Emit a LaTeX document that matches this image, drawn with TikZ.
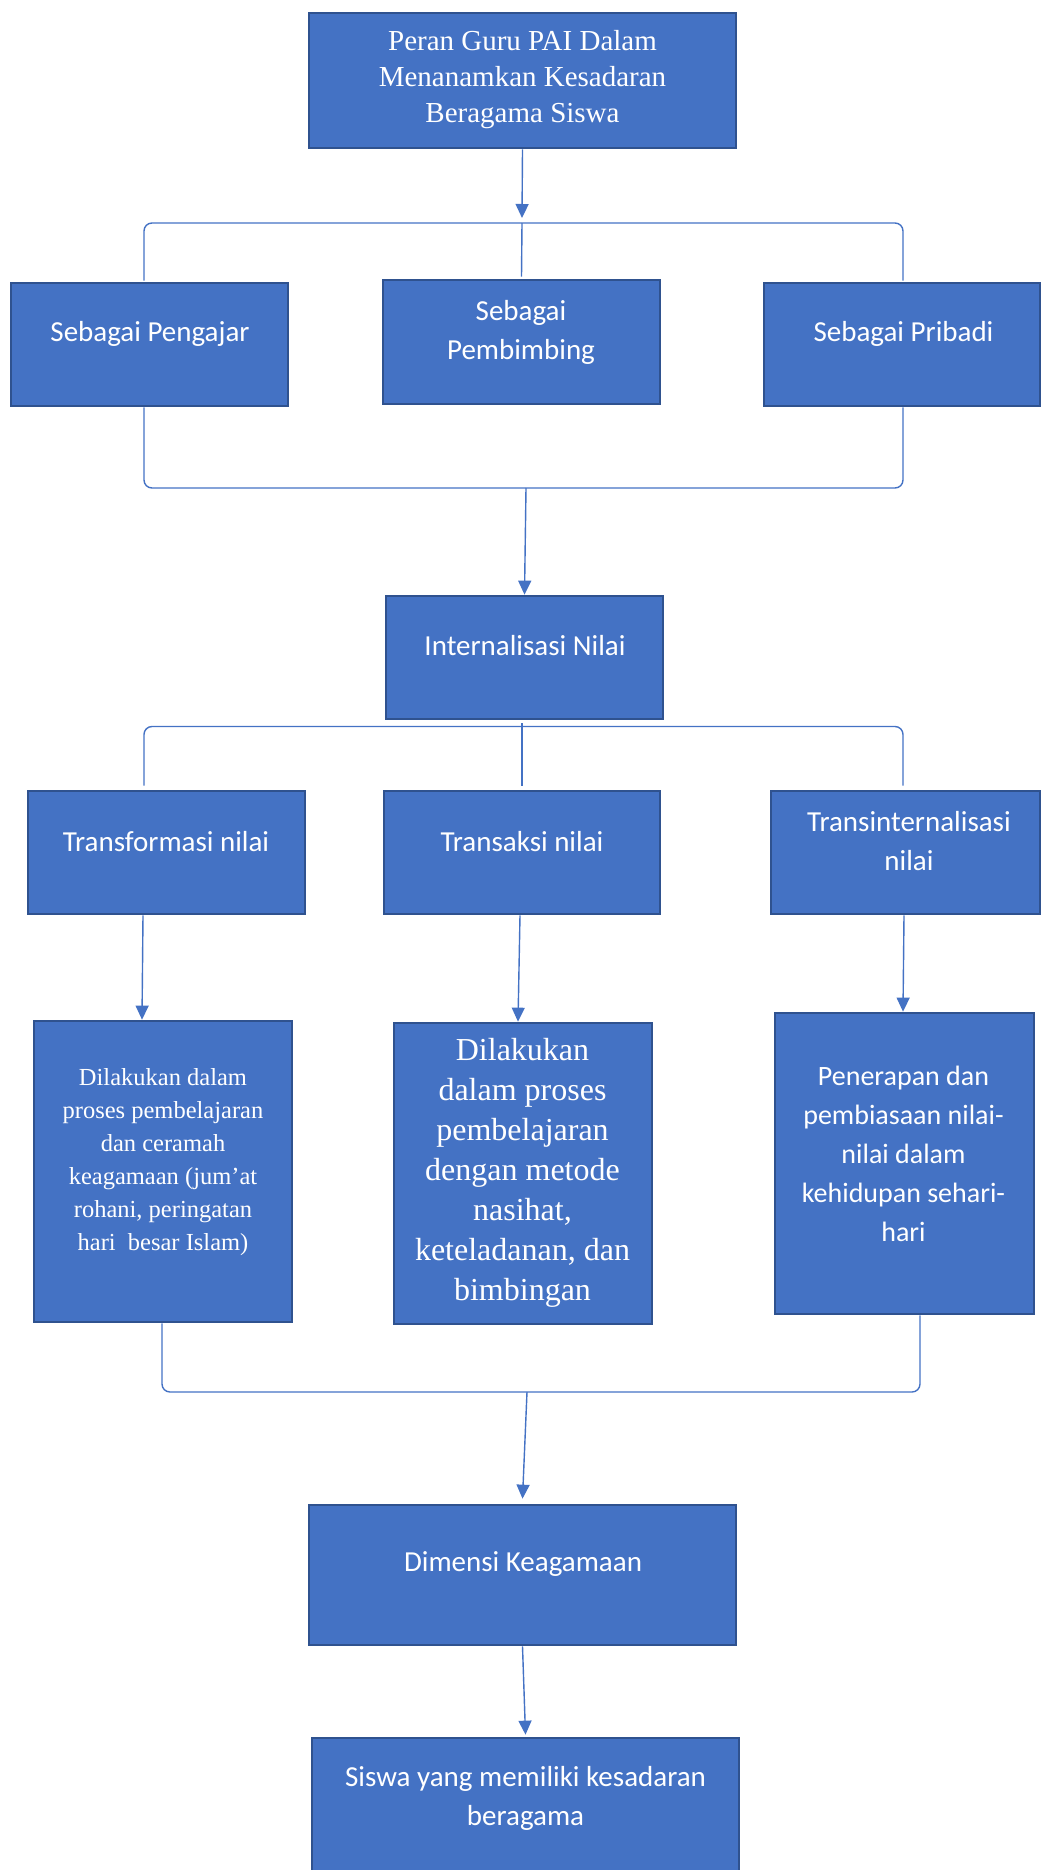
\documentclass[tikz,border=0pt]{standalone}
\usepackage{fontspec}
\setmainfont{Liberation Serif}
\newfontfamily\calfont{Carlito}
\usetikzlibrary{arrows.meta,calc}
\definecolor{boxblue}{HTML}{4472C4}
\definecolor{boxedge}{HTML}{2F528F}
\definecolor{linkblue}{HTML}{4472C4}
\begin{document}
\begin{tikzpicture}[x=1pt,y=-1pt,
  box/.style={draw=boxedge,fill=boxblue,line width=2.7pt,inner sep=0pt,rectangle},
  conn/.style={draw=linkblue,line width=1.4pt},
  arr/.style={conn,-{Triangle[length=14pt,width=13pt]}},
  bracket/.style={conn,rounded corners=8pt},
  sanstxt/.style={text=white,align=center,inner sep=0pt,font=\calfont\fontsize{29}{39}\selectfont},
  sanssmall/.style={text=white,align=center,inner sep=0pt,font=\calfont\fontsize{28}{39}\selectfont},
  seriftxt/.style={text=white,align=center,inner sep=0pt,font=\fontsize{29}{36}\selectfont},
  serifsmall/.style={text=white,align=center,inner sep=0pt,font=\fontsize{24.5}{33}\selectfont},
  serifbig/.style={text=white,align=center,inner sep=0pt,font=\fontsize{32}{40}\selectfont}
]
\path[use as bounding box] (0,0) rectangle (1043,1870);
\clip (0,0) rectangle (1043,1870);

% boxes
\node[box,minimum width=427pt,minimum height=135pt] (A) at (522.5,80.5) {};
\node[box,minimum width=277pt,minimum height=123pt] (B1) at (149.5,344.5) {};
\node[box,minimum width=277pt,minimum height=124pt] (B2) at (521.5,342) {};
\node[box,minimum width=276pt,minimum height=123pt] (B3) at (902,344.5) {};
\node[box,minimum width=277pt,minimum height=123pt] (C) at (524.5,657.5) {};
\node[box,minimum width=277pt,minimum height=123pt] (D1) at (166.5,852.5) {};
\node[box,minimum width=276pt,minimum height=123pt] (D2) at (522,852.5) {};
\node[box,minimum width=269pt,minimum height=123pt] (D3) at (905.5,852.5) {};
\node[box,minimum width=258pt,minimum height=301pt] (E1) at (163,1171.5) {};
\node[box,minimum width=258pt,minimum height=301pt] (E2) at (523,1173.5) {};
\node[box,minimum width=259pt,minimum height=301pt] (E3) at (904.5,1163.5) {};
\node[box,minimum width=427pt,minimum height=140pt] (F) at (522.5,1575) {};
\node[box,minimum width=427pt,minimum height=160pt] (G) at (525.5,1818) {};

% texts
\node[seriftxt] (tA) at (522.5,80) {Peran Guru PAI Dalam\\Menanamkan Kesadaran\\Beragama Siswa};
\node[sanstxt] (tB1) at (150,334) {Sebagai Pengajar};
\node[sanstxt] (tB2) at (521,332.5) {Sebagai\\Pembimbing};
\node[sanstxt] (tB3) at (903.5,334) {Sebagai Pribadi};
\node[sanstxt] (tC) at (525,646) {Internalisasi Nilai};
\node[sanstxt] (tD1) at (166,842) {Transformasi nilai};
\node[sanstxt] (tD2) at (522,842) {Transaksi nilai};
\node[sanstxt] (tD3) at (909,841.5) {Transinternalisasi\\nilai};
\node[serifsmall] (tE1) at (163,1162) {Dilakukan dalam\\proses pembelajaran\\dan ceramah\\keagamaan (jum’at\\rohani, peringatan\\hari\ \ besar Islam)};
\node[serifbig] (tE2) at (522.5,1173) {Dilakukan\\dalam proses\\pembelajaran\\dengan metode\\nasihat,\\keteladanan, dan\\bimbingan};
\node[sanssmall] (tE3) at (903.5,1153.5) {Penerapan dan\\pembiasaan nilai-\\nilai dalam\\kehidupan sehari-\\hari};
\node[sanstxt] (tF) at (523,1564) {Dimensi Keagamaan};
\node[sanstxt] (tG) at (525.5,1798.5) {Siswa yang memiliki kesadaran\\beragama};

% junction coordinates
\coordinate (h1) at (522,223);
\coordinate (h2) at (526,488);
\coordinate (h3) at (522,726.5);
\coordinate (h4) at (527,1392);

% connectors
\draw[arr] (A.south) -- ([yshift=5pt]h1);
\draw[bracket] ([xshift=-5.5pt,yshift=1pt]B1.north) |- (h1) -| ([xshift=1pt,yshift=1pt]B3.north);
\draw[conn] (h1) -- ([yshift=2pt]B2.north);

\draw[bracket] ([xshift=-5.5pt]B1.south) |- (h2) -| ([xshift=1pt]B3.south);
\draw[arr] (h2) -- (C.north);

\draw[bracket] ([xshift=-22.5pt,yshift=4pt]D1.north) |- (h3) -| ([xshift=-2.5pt,yshift=4pt]D3.north);
\draw[conn] ([yshift=-3pt]C.south -| D2.north) -- ([yshift=4pt]D2.north);

\draw[arr] ([xshift=-23.5pt]D1.south) -- ([xshift=-21pt]E1.north);
\draw[arr] ([xshift=-2pt]D2.south) -- ([xshift=-5pt]E2.north);
\draw[arr] ([xshift=-1.5pt]D3.south) -- ([xshift=-1.5pt]E3.north);

\draw[bracket] ([xshift=-1pt]E1.south) |- (h4) -| ([xshift=15.5pt]E3.south);
\draw[arr] (h4) -- ([yshift=5pt]F.north);
\draw[arr] (F.south) -- ([yshift=2pt]G.north);
\end{tikzpicture}
\end{document}
